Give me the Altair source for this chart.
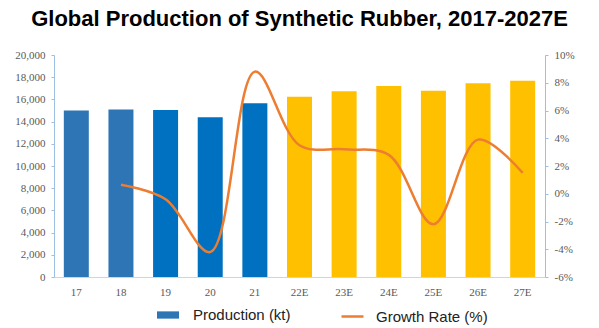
import altair as alt
import pandas as pd

years = ["17", "18", "19", "20", "21", "22E", "23E", "24E", "25E", "26E", "27E"]
production = [15000, 15100, 15050, 14400, 15650, 16250, 16730, 17200, 16790, 17450, 17690]
growth = [None, 0.65, -0.4, -4.2, 8.8, 3.5, 3.2, 2.8, -2.2, 3.9, 1.5]
bar_colors = ["#2E75B6", "#2E75B6", "#0070C0", "#0070C0", "#0070C0",
              "#FFC000", "#FFC000", "#FFC000", "#FFC000", "#FFC000", "#FFC000"]

df = pd.DataFrame({
    "year": years,
    "production": production,
    "growth": growth,
    "fillc": bar_colors,
    "s1": ["Production (kt)"] * len(years),
    "s2": ["Growth Rate (%)"] * len(years),
})

AX = "#9DBFE3"
LBL = "#595959"
SERIF = "Liberation Serif"

x = alt.X("year:N", sort=years, title=None,
          scale=alt.Scale(paddingInner=0.44, paddingOuter=0.22),
          axis=alt.Axis(labelAngle=0, ticks=False, domainColor="#C9D6E3", labelPadding=9,
                        labelFont=SERIF, labelFontSize=11, labelColor=LBL))

y_prod = alt.Y("production:Q", title=None,
               scale=alt.Scale(domain=[0, 20000], nice=False),
               axis=alt.Axis(values=list(range(0, 20001, 2000)), format=",d", grid=False,
                             labelOverlap=False,
                             domainColor=AX, tickColor=AX, tickSize=3, labelPadding=6,
                             labelFont=SERIF, labelFontSize=11, labelColor=LBL))

bars = alt.Chart(df).mark_bar().encode(
    x=x,
    y=y_prod,
    color=alt.Color("fillc:N", scale=None),
)

# legend-only layer (no marks drawn)
bar_legend = alt.Chart(df).transform_filter("false").mark_bar().encode(
    x=x,
    y=y_prod,
    color=alt.Color("s1:N", scale=alt.Scale(domain=["Production (kt)"], range=["#2E75B6"]),
                    legend=alt.Legend(title=None, orient="none", legendX=103, legendY=249,
                                      symbolType="M-1,-0.33L1,-0.33L1,0.33L-1,0.33Z",
                                      symbolSize=484, symbolStrokeWidth=0, labelOffset=14,
                                      labelFont="Liberation Sans", labelFontSize=15,
                                      labelColor="#222222", padding=0)),
)

line = alt.Chart(df).transform_filter("isValid(datum.growth)").mark_line(
    interpolate="catmull-rom", strokeWidth=2.5
).encode(
    x=x,
    y=alt.Y("growth:Q", title=None,
            scale=alt.Scale(domain=[-6, 10], nice=False),
            axis=alt.Axis(orient="right", values=list(range(-6, 11, 2)), labelExpr="datum.value + '%'",
                          grid=False, labelOverlap=False,
                          domainColor=AX, tickColor=AX, tickSize=3, labelPadding=6,
                          labelFont=SERIF, labelFontSize=11, labelColor=LBL)),
    color=alt.Color("s2:N", scale=alt.Scale(domain=["Growth Rate (%)"], range=["#ED7D31"]),
                    legend=alt.Legend(title=None, orient="none", legendX=286, legendY=249,
                                      symbolType="stroke", symbolSize=484, symbolStrokeWidth=2.5,
                                      labelOffset=11,
                                      labelFont="Liberation Sans", labelFontSize=15,
                                      labelColor="#222222", padding=0)),
)

left = alt.layer(bars, bar_legend)

chart = alt.layer(left, line).resolve_scale(y="independent", color="independent").properties(
    width=491, height=222,
    autosize=alt.AutoSizeParams(type="none"),
    padding={"left": 54, "top": 55, "right": 54, "bottom": 51},
    title=alt.TitleParams("Global Production of Synthetic Rubber, 2017-2027E",
                          font="Liberation Sans", fontSize=22, fontWeight="bold",
                          color="#000000", anchor="middle", offset=18),
    background="white",
).configure_view(stroke=None)

chart.save("out.html", embed_options={"renderer": "svg", "actions": False})
